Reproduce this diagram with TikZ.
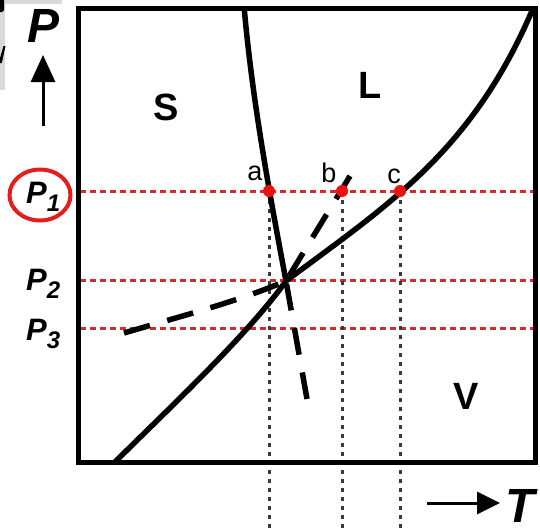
\documentclass[tikz,border=0pt]{standalone}
\usepackage{fontspec}
\setmainfont{Liberation Sans}
\usetikzlibrary{arrows.meta,shapes.geometric}
\definecolor{ptred}{HTML}{EE1111}
\definecolor{dotred}{HTML}{D42A2A}
\definecolor{dgray}{HTML}{3A3A3A}
\definecolor{stripgray}{HTML}{D9D9D9}
\definecolor{circred}{HTML}{E41E1E}
\begin{document}
\begin{tikzpicture}[x=1pt,y=-1pt,
  curve/.style={line width=5.5pt,black},
  dashcurve/.style={line width=5.5pt,black,dash pattern=on 27pt off 18pt},
  reddot/.style={line width=3pt,color=dotred,dash pattern=on 6pt off 4pt},
  graydot/.style={line width=3pt,color=dgray,dash pattern=on 4pt off 5pt},
  ptdot/.style={circle,fill=ptred,inner sep=0pt,minimum size=12pt},
  region/.style={font=\fontsize{38}{38}\selectfont\bfseries,inner sep=0pt},
  ptlabel/.style={font=\fontsize{27}{27}\selectfont,inner sep=0pt},
  plabel/.style={font=\fontsize{31}{31}\selectfont\bfseries\itshape,anchor=base west,inner sep=0pt},
  axlabel/.style={font=\fontsize{48}{48}\selectfont\bfseries\itshape,anchor=base west,inner sep=0pt},
  axarrow/.style={line width=3pt,-{Triangle[length=27pt,width=24pt]}}
]
\useasboundingbox (0,0) rectangle (540,531);
% cropped remnants at top-left
\fill[stripgray] (0,0) rectangle (62,4);
\fill[stripgray] (0,0) rectangle (5,90);
\fill[black] (0,0) -- (4,0) -- (4,10) -- (2,12) -- (0,12) -- cycle;
\fill[black] (3.5,46) -- (5.5,46) -- (1.8,63) -- (0,63) -- (0,58) -- cycle;

% positions
\coordinate (a0) at (269,191);
\coordinate (b0) at (342,191);
\coordinate (c0) at (400,191);
\coordinate (tp) at (286,281);
\coordinate (abot) at (269,531);
\coordinate (bbot) at (342,531);
\coordinate (cbot) at (400,531);
\coordinate (p1l) at (80,191);  \coordinate (p1r) at (533,191);
\coordinate (p2l) at (80,280);  \coordinate (p2r) at (533,280);
\coordinate (p3l) at (80,328);  \coordinate (p3r) at (533,328);

% dotted guide lines
\draw[reddot] (p1l) -- (p1r);
\draw[reddot] (p2l) -- (p2r);
\draw[reddot] (p3l) -- (p3r);
\draw[graydot] (a0) -- (abot);
\draw[graydot] (b0) -- (bbot);
\draw[graydot] (c0) -- (cbot);

% phase boundaries
\begin{scope}
\clip (78,8) rectangle (535,462);
\coordinate (meltTop) at (244,6);
\coordinate (subBot) at (113,464);
\coordinate (vapTop) at (534,6);
\coordinate (meltEnd) at (307,399);
\coordinate (subEnd) at (350,176);
\coordinate (vapEnd) at (124,333);
\draw[curve] (meltTop) .. controls (252,98) and (269,191) .. (tp);
\draw[curve] (subBot) .. controls (165,412) and (246,337) .. (tp);
\draw[curve] (tp) .. controls (386,206) and (473,152) .. (vapTop);
\draw[dashcurve] (meltEnd) -- (tp);
\draw[dashcurve] (subEnd) -- (tp);
\draw[dashcurve] (vapEnd) .. controls (185,315) and (236,302) .. (tp);
\end{scope}

% frame
\draw[line width=5pt] (78,8) rectangle (535,462);

% points
\node[ptdot] (a) at (a0) {};
\node[ptdot] (b) at (b0) {};
\node[ptdot] (c) at (c0) {};
\node[ptlabel] (alab) at (255,173) {a};
\node[ptlabel] (blab) at (329,173) {b};
\node[ptlabel] (clab) at (394,176) {c};

% regions
\node[region] (S) at (166,107) {S};
\node[region] (L) at (370,85) {L};
\node[region] (V) at (466,396) {V};

% pressure labels
\node[plabel] (P1) at (26,203) {P\raisebox{-8pt}{\fontsize{24}{24}\selectfont 1}};
\node[plabel] (P2) at (26,290) {P\raisebox{-8pt}{\fontsize{24}{24}\selectfont 2}};
\node[plabel] (P3) at (26,340) {P\raisebox{-8pt}{\fontsize{24}{24}\selectfont 3}};
\node[ellipse,draw=circred,line width=4pt,minimum width=61pt,minimum height=51pt,inner sep=0pt] (circ) at (40,195) {};

% axes
\node[axlabel] (Plab) at (27,42) {P};
\coordinate (upS) at (43,126);
\coordinate (upT) at (43,55);
\draw[axarrow] (upS) -- (upT);
\node[axlabel] (Tlab) at (505,522) {T};
\coordinate (rtS) at (427,503);
\coordinate (rtT) at (500,503);
\draw[axarrow,-{Triangle[length=23pt,width=22pt]}] (rtS) -- (rtT);
\end{tikzpicture}
\end{document}
